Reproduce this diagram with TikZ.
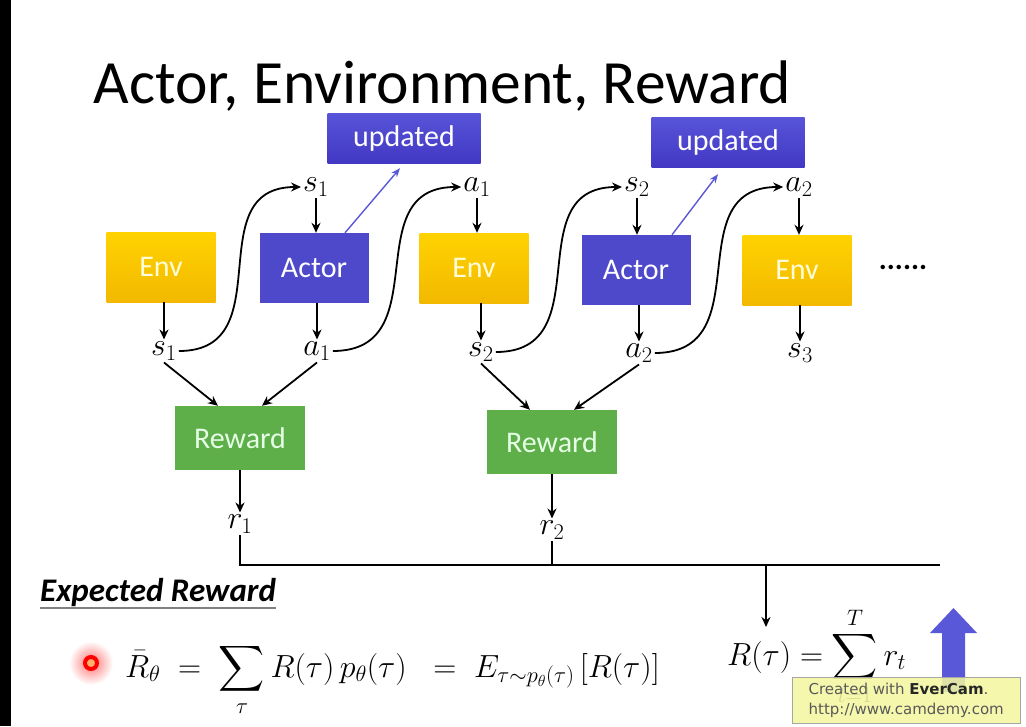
\RequirePackage{fix-cm}
\documentclass[tikz,border=0pt]{standalone}
\DeclareFontFamily{OMX}{cmex}{}
\DeclareFontShape{OMX}{cmex}{m}{n}{<-> cmex10}{}
\usepackage{fontspec}
\setmainfont{Carlito}
\setsansfont{DejaVu Sans}
\usetikzlibrary{arrows.meta,positioning}

\definecolor{envtop}{RGB}{255,210,0}
\definecolor{envbot}{RGB}{242,185,0}
\definecolor{actorblue}{RGB}{78,72,202}
\definecolor{updtop}{RGB}{88,84,216}
\definecolor{updbot}{RGB}{66,56,196}
\definecolor{rewgreen}{RGB}{94,174,74}
\definecolor{linkblue}{RGB}{88,88,216}
\definecolor{camyellow}{RGB}{242,246,160}

\tikzset{
  box/.style={minimum width=109pt,minimum height=70pt,inner sep=0pt,
    text=white,font=\fontsize{30}{34}\selectfont},
  envbox/.style={box,top color=envtop,bottom color=envbot,text=yellow!15},
  actorbox/.style={box,fill=actorblue},
  updbox/.style={box,minimum width=153pt,minimum height=50pt,
    top color=updtop,bottom color=updbot},
  rewbox/.style={box,fill=rewgreen,minimum width=130pt,minimum height=64pt,
    text=green!10},
  var/.style={font=\fontsize{32}{36}\selectfont,inner sep=2pt},
  arr/.style={-{Stealth[length=10pt,width=9pt]},line width=1.8pt},
  updarr/.style={-{Stealth[length=9pt,width=7pt]},line width=1.4pt,linkblue},
}

\begin{document}
\begin{tikzpicture}[x=1pt,y=-1pt]
  \useasboundingbox (0,0) rectangle (1026,726);
  \fill[black] (0,0) rectangle (11,726);

  \node[anchor=base west,font=\fontsize{61.5}{70}\selectfont] (title) at (90,103)
    {Actor, Environment, Reward};

  % boxes
  \node[envbox] (env1) at (161,267) {Env};
  \node[actorbox] (actor1) at (314,268) {Actor};
  \node[envbox] (env2) at (474,268) {Env};
  \node[actorbox] (actor2) at (636,270) {Actor};
  \node[envbox] (env3) at (797,270) {Env};
  \node[font=\fontsize{30}{34}\selectfont\bfseries] (dots) at (903,267) {......};
  \node[updbox] (upd1) at (404,138) {updated};
  \node[updbox] (upd2) at (728,142) {updated};
  \node[rewbox] (rew1) at (240,438) {Reward};
  \node[rewbox] (rew2) at (552,442) {Reward};

  % states and actions
  \node[var] (s1t) at (316,187) {$s_1$};
  \node[var] (a1t) at (477,187) {$a_1$};
  \node[var] (s2t) at (637,187) {$s_2$};
  \node[var] (a2t) at (799,187) {$a_2$};
  \node[var] (s1b) at (164,351) {$s_1$};
  \node[var] (a1b) at (317,351) {$a_1$};
  \node[var] (s2b) at (481,352) {$s_2$};
  \node[var] (a2b) at (639,353) {$a_2$};
  \node[var] (s3b) at (800,353) {$s_3$};
  \node[var] (r1) at (240,524) {$r_1$};
  \node[var] (r2) at (552,530) {$r_2$};

  \draw[arr] (s1t) -- (s1t |- actor1.north);
  \draw[arr] (a1t) -- (a1t |- env2.north);
  \draw[arr] (s2t) -- (s2t |- actor2.north);
  \draw[arr] (a2t) -- (a2t |- env3.north);
  \draw[arr] (env1.south -| s1b) -- (s1b);
  \draw[arr] (actor1.south -| a1b) -- (a1b);
  \draw[arr] (env2.south -| s2b) -- (s2b);
  \draw[arr] (actor2.south -| a2b) -- (a2b);
  \draw[arr] (env3.south -| s3b) -- (s3b);

  \draw[arr] (s1b.east) to[out=0,in=180,looseness=1.3] (s1t.west);
  \draw[arr] (a1b.east) to[out=0,in=180,looseness=1.3] (a1t.west);
  \draw[arr] (s2b.east) to[out=0,in=180,looseness=1.3] (s2t.west);
  \draw[arr] (a2b.east) to[out=0,in=180,looseness=1.3] (a2t.west);

  \draw[updarr] ([xshift=31pt]actor1.north) -- ([xshift=-4pt,yshift=-5pt]upd1.south);
  \draw[updarr] ([xshift=36pt]actor2.north) -- ([xshift=-10pt,yshift=-7pt]upd2.south);

  \draw[arr] (s1b.south) -- ([xshift=-22pt]rew1.north);
  \draw[arr] (a1b.south) -- ([xshift=22pt]rew1.north);
  \draw[arr] (s2b.south) -- ([xshift=-22pt]rew2.north);
  \draw[arr] (a2b.south) -- ([xshift=22pt]rew2.north);
  \draw[arr] (rew1.south -| r1) -- (r1);
  \draw[arr] (rew2.south -| r2) -- (r2);

  % sum of rewards
  \coordinate (busend) at (940,565);
  \coordinate (tap) at (766,565);
  \coordinate (Rin) at (766,627);
  \draw[line width=1.8pt] (r1.south) |- (busend);
  \draw[line width=1.8pt] (r2.south) -- (r2.south |- busend);
  \draw[arr] (tap) -- (Rin);
  \node[anchor=base west,font=\fontsize{32}{36}\selectfont,inner sep=0pt] (Rsum) at (727,665)
    {$\displaystyle R(\tau) = \sum_{t=1}^{T} r_t$};
  \fill[linkblue] (942,692) -- (942,633) -- (930,633) -- (953.5,608)
    -- (977,633) -- (965,633) -- (965,692) -- cycle;

  % expected reward
  \node[anchor=base west,font=\fontsize{33}{38}\selectfont\bfseries\itshape,inner sep=0pt]
    (exp) at (40,601) {Expected Reward};
  \draw[gray,line width=2pt] ([yshift=-2pt]exp.south west) -- ([yshift=-2pt]exp.south east);
  \node[anchor=base west,font=\fontsize{32}{36}\selectfont,inner sep=0pt] (Rbar) at (125,677)
    {$\displaystyle \bar R_\theta \;=\; \sum_\tau R(\tau)\,p_\theta(\tau) \;\;=\; E_{\tau\sim p_\theta(\tau)}\,[R(\tau)]$};

  % pointer
  \shade[inner color=red!55,outer color=white] (91,663) circle (22pt);
  \fill[orange!60] (91,663) circle (4pt);
  \draw[red,line width=4pt] (91,663) circle (6pt);

  % watermark
  \node[draw=gray!70,fill=camyellow,fill opacity=0.88,text opacity=1,anchor=north west,
    align=left,text=black!65,font=\sffamily\fontsize{15}{20}\selectfont,
    minimum width=228pt,minimum height=46pt,inner sep=4pt] (cam) at (792,677)
    {Created with \textbf{\color{black!85}EverCam}.\\http://www.camdemy.com};
\end{tikzpicture}
\end{document}
